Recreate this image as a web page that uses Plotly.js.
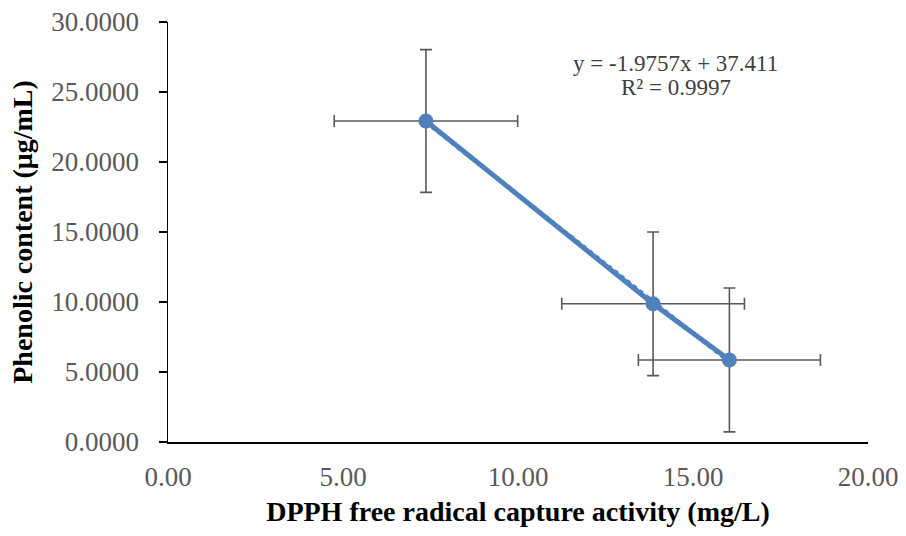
<!DOCTYPE html>
<html>
<head>
<meta charset="utf-8">
<script src="https://cdn.plot.ly/plotly-3.0.1.min.js"></script>
<style>html,body{margin:0;padding:0;background:#fff;}</style>
</head>
<body>
<div id="chart" style="width:906px;height:536px;"></div>
<script>
const xValues = [7.37, 13.86, 16.04];
const yValues = [22.93, 9.87, 5.86];
const xErrors = [2.62, 2.61, 2.60];
const yErrors = [5.10, 5.13, 5.14];
const slope = -1.9757;
const intercept = 37.411;
const equationLines = ["y = -1.9757x + 37.411", "R² = 0.9997"];
const xTitle = "DPPH free radical capture activity (mg/L)";
const yTitle = "Phenolic content (μg/mL)";

const blue = "#4F81BD";
const serif = "Liberation Serif, Times New Roman, serif";

const trendX = [Math.min(...xValues), Math.max(...xValues)];
const trendY = trendX.map(x => slope * x + intercept);

const data = [
  {
    x: trendX, y: trendY, type: "scatter", mode: "lines",
    line: {color: blue, width: 4, dash: "dot"},
    hoverinfo: "skip", showlegend: false
  },
  {
    x: xValues, y: yValues, type: "scatter", mode: "lines+markers",
    line: {color: blue, width: 5},
    marker: {color: blue, size: 15},
    error_x: {type: "data", array: xErrors, visible: true, color: "#595959", thickness: 1.6, width: 6},
    error_y: {type: "data", array: yErrors, visible: true, color: "#595959", thickness: 1.6, width: 6},
    showlegend: false
  }
];

const layout = {
  width: 906, height: 536,
  margin: {l: 168, r: 38, t: 22, b: 94},
  paper_bgcolor: "#fff", plot_bgcolor: "#fff",
  showlegend: false,
  font: {family: serif, color: "#595959"},
  xaxis: {
    range: [0, 20], dtick: 5, tick0: 0, tickformat: ".2f",
    showgrid: false, zeroline: false,
    showline: true, linecolor: "#000", linewidth: 1.5,
    ticks: "", ticklabelstandoff: 10,
    tickfont: {family: serif, size: 27, color: "#595959"},
    title: {text: xTitle, font: {family: serif, size: 28, color: "#000", weight: "bold"}, standoff: 10}
  },
  yaxis: {
    range: [0, 30], dtick: 5, tick0: 0, tickformat: ".4f",
    showgrid: false, zeroline: false,
    showline: true, linecolor: "#000", linewidth: 1.5,
    ticks: "outside", ticklen: 8, tickwidth: 1.5, tickcolor: "#000",
    ticklabelstandoff: 14,
    tickfont: {family: serif, size: 27, color: "#595959"},
    title: {text: yTitle, font: {family: serif, size: 28, color: "#000", weight: "bold"}, standoff: 10}
  },
  annotations: [
    {xref: "x", yref: "y", x: 14.51, y: 27.07, showarrow: false, text: equationLines[0],
     font: {family: serif, size: 23, color: "#404040"}},
    {xref: "x", yref: "y", x: 14.51, y: 25.29, showarrow: false, text: equationLines[1],
     font: {family: serif, size: 23, color: "#404040"}}
  ]
};

Plotly.newPlot("chart", data, layout, {displayModeBar: false, staticPlot: true});
</script>
</body>
</html>
